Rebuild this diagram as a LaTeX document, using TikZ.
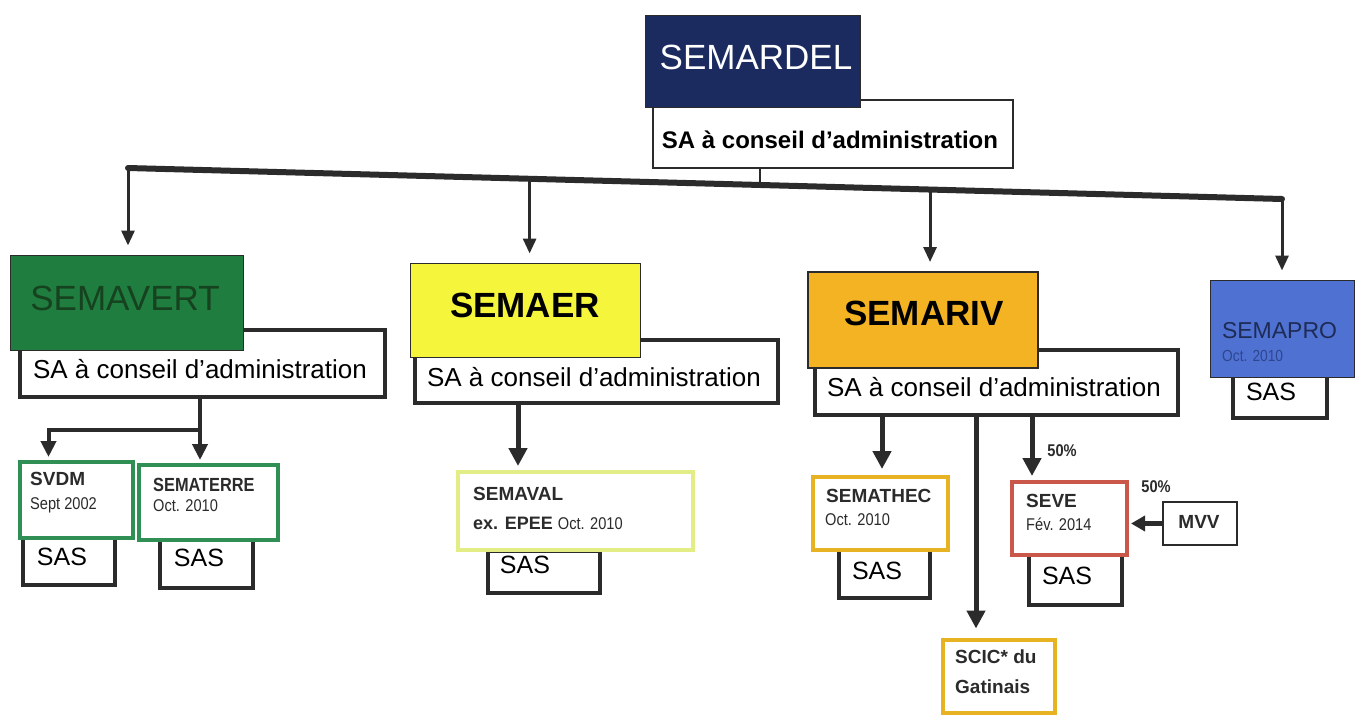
\documentclass[tikz,border=0pt]{standalone}
\usepackage{fontspec}
\setmainfont{Liberation Sans}
\newfontfamily\narrowsans[FakeStretch=0.86]{Liberation Sans}
\usetikzlibrary{arrows.meta,calc}
\definecolor{ink}{HTML}{2B2B2B}
\definecolor{navy}{HTML}{1C2B5F}
\definecolor{vert}{HTML}{1F7D3F}
\definecolor{vertdark}{HTML}{17421F}
\definecolor{jaune}{HTML}{F5F53C}
\definecolor{orange}{HTML}{F3B323}
\definecolor{bleu}{HTML}{4F72D2}
\definecolor{bleudark}{HTML}{1D2B55}
\definecolor{bleumid}{HTML}{2E4590}
\definecolor{vertbord}{HTML}{2F8F55}
\definecolor{palebord}{HTML}{E2ED85}
\definecolor{orbord}{HTML}{E8B323}
\definecolor{rougebord}{HTML}{C9584A}
\begin{document}
\begin{tikzpicture}[x=1pt,y=-1pt,
  sabox/.style={draw=ink, line width=3.5pt, fill=white, inner sep=0pt},
  sasbox/.style={draw=ink, line width=4pt, fill=white, inner sep=0pt},
  head/.style={draw=ink, line width=1pt, inner sep=0pt},
  sub/.style={line width=4pt, fill=white, inner sep=0pt},
  txt/.style={inner sep=0pt, text=black},
  ltxt/.style={inner sep=0pt, anchor=west, text=ink},
  satext/.style={txt, font=\fontsize{26}{26}\selectfont},
  sastext/.style={txt, font=\fontsize{25}{25}\selectfont},
  lab/.style={ltxt, font=\bfseries\fontsize{19}{19}\selectfont},
  date/.style={ltxt, font=\narrowsans\fontsize{17}{17}\selectfont},
  conn/.style={draw=ink, line width=5pt},
  topconn/.style={draw=ink, line width=3pt, -{Triangle[width=13pt,length=15pt]}, shorten >=9pt},
  arr/.style={draw=ink, line width=5pt, -{Triangle[width=18pt,length=18pt]}}
]
\useasboundingbox (0,0) rectangle (1359,715);

% ---------- top ----------
\node[sabox, line width=2pt, minimum width=360pt, minimum height=68pt] (sa0) at (833,134) {};
\node[head, fill=navy, minimum width=215pt, minimum height=92pt] (semardel) at (752.5,61) {};
\node[txt, text=white, font=\fontsize{35}{35}\selectfont] at (756,57) {SEMARDEL};
\node[txt, font=\bfseries\fontsize{24}{24}\selectfont] at (830,140) {SA à conseil d’administration};

% main bar (slightly tilted as in the scan)
\coordinate (bL) at (128,168);
\coordinate (bR) at (1282,199);
\coordinate (b0) at ($(bL)!0.548!(bR)$);
\coordinate (b1) at (bL);
\coordinate (b2) at ($(bL)!0.348!(bR)$);
\coordinate (b3) at ($(bL)!0.695!(bR)$);
\coordinate (b4) at (bR);
\draw[draw=ink, line width=6pt, line cap=round] (bL) -- (bR);
\draw[draw=ink, line width=2pt] (sa0.south -| b0) -- (b0);

% ---------- SEMAVERT ----------
\node[sabox, minimum width=365pt, minimum height=67pt] (sa1) at (202.5,363.5) {};
\node[head, fill=vert, minimum width=233pt, minimum height=95pt] (semavert) at (126.5,302.5) {};
\node[txt, text=vertdark, font=\fontsize{35}{35}\selectfont] at (125,298) {SEMAVERT};
\node[satext] at (200,369) {SA à conseil d’administration};

\node[sasbox, minimum width=92pt, minimum height=50pt] (sas1) at (69,560) {};
\node[sastext] at (62,557) {SAS};
\node[sub, draw=vertbord, minimum width=113pt, minimum height=76pt] (svdm) at (76.5,500) {};
\node[lab] at (30,479) {SVDM};
\node[date] at (30,505) {Sept 2002};

\node[sasbox, minimum width=93pt, minimum height=50pt] (sas2) at (206.5,563) {};
\node[sastext] at (199,558) {SAS};
\node[sub, draw=vertbord, minimum width=139pt, minimum height=75pt] (sematerre) at (208.5,502.5) {};
\node[ltxt, font=\narrowsans\bfseries\fontsize{19}{19}\selectfont] at (153,485) {SEMATERRE};
\node[date] at (153,506) {Oct. 2010};

\coordinate (j1) at (200,430);
\draw[draw=ink, line width=4pt] (sa1.south -| j1) -- (j1);
\draw[draw=ink, line width=4pt, -{Triangle[width=15pt,length=16pt]}, shorten >=3pt] (j1) -| ([xshift=-28pt]svdm.north);
\draw[draw=ink, line width=4pt, -{Triangle[width=15pt,length=16pt]}, shorten >=3pt] (j1) -- (j1 |- sematerre.north);

% ---------- SEMAER ----------
\node[sabox, minimum width=363pt, minimum height=63pt] (sa2) at (596.5,371.5) {};
\node[head, fill=jaune, minimum width=230pt, minimum height=94pt] (semaer) at (525,310) {};
\node[txt, font=\bfseries\fontsize{35}{35}\selectfont] at (525,305) {SEMAER};
\node[satext] at (594,377) {SA à conseil d’administration};

\node[sasbox, minimum width=112pt, minimum height=42pt] (sas3) at (544,572) {};
\node[sastext] at (525,565) {SAS};
\node[sub, draw=palebord, minimum width=235pt, minimum height=78pt] (semaval) at (575.5,511) {};
\node[lab] at (473,494) {SEMAVAL};
\node[ltxt] at (473,523) {\bfseries\fontsize{18}{18}\selectfont ex. EPEE \narrowsans\mdseries\fontsize{17}{17}\selectfont Oct. 2010};
\draw[arr, shorten >=4pt] (sa2.south -| 518,0) -- (518,0 |- semaval.north);

% ---------- SEMARIV ----------
\node[sabox, minimum width=363pt, minimum height=65pt] (sa3) at (996.5,382.5) {};
\node[head, line width=2pt, fill=orange, minimum width=230pt, minimum height=96pt] (semariv) at (923,320) {};
\node[txt, font=\bfseries\fontsize{35}{35}\selectfont] at (924,313) {SEMARIV};
\node[satext] at (994,387) {SA à conseil d’administration};

\node[sasbox, minimum width=91pt, minimum height=48pt] (sas4) at (884.5,574) {};
\node[sastext] at (877,571) {SAS};
\node[sub, draw=orbord, minimum width=135pt, minimum height=73pt] (semathec) at (880.5,513.5) {};
\node[lab] at (826,496) {SEMATHEC};
\node[date] at (825,520) {Oct. 2010};

\node[sasbox, minimum width=93pt, minimum height=50pt] (sas5) at (1075.5,580) {};
\node[sastext] at (1067,576) {SAS};
\node[sub, draw=rougebord, minimum width=115pt, minimum height=73pt] (seve) at (1069.5,518.5) {};
\node[lab] at (1026,501) {SEVE};
\node[date] at (1026,524) {Fév. 2014};

\node[sub, draw=orbord, minimum width=112pt, minimum height=73pt] (scic) at (999,676) {};
\node[lab] at (955,657) {SCIC* du};
\node[lab] at (955,687) {Gatinais};

\node[draw=ink, line width=2.5pt, fill=white, inner sep=0pt, minimum width=74pt, minimum height=43pt] (mvv) at (1200,523.5) {};
\node[txt, text=ink, font=\bfseries\fontsize{19}{19}\selectfont] at (1199,522) {MVV};

\node[txt, text=ink, font=\narrowsans\bfseries\fontsize{17}{17}\selectfont] at (1062,451) {50\%};
\node[txt, text=ink, font=\narrowsans\bfseries\fontsize{17}{17}\selectfont] at (1156,487) {50\%};

\draw[arr, shorten >=6pt] (sa3.south -| 882,0) -- (882,0 |- semathec.north);
\draw[arr, shorten >=9pt] (sa3.south -| 976,0) -- (976,0 |- scic.north);
\draw[arr, shorten >=4pt] (sa3.south -| 1032,0) -- (1032,0 |- seve.north);
\draw[draw=ink, line width=5pt, -{Triangle[width=15pt,length=14pt]}, shorten >=2pt] (mvv.west) -- (mvv.west -| seve.east);

% ---------- SEMAPRO ----------
\node[sasbox, minimum width=94pt, minimum height=42pt] (sas6) at (1280,397) {};
\node[sastext] at (1271,392) {SAS};
\node[head, fill=bleu, minimum width=144pt, minimum height=97pt] (semapro) at (1282,328.5) {};
\node[txt, text=bleudark, font=\fontsize{23}{23}\selectfont] at (1279.5,331) {SEMAPRO};
\node[ltxt, text=bleumid, font=\narrowsans\fontsize{16}{16}\selectfont] at (1222,356) {Oct. 2010};

% ---------- top arrows ----------
\draw[topconn] (b1) -- (b1 |- semavert.north);
\draw[topconn] (b2) -- (b2 |- semaer.north);
\draw[topconn] (b3) -- (b3 |- semariv.north);
\draw[topconn] (b4) -- (b4 |- semapro.north);
\end{tikzpicture}
\end{document}
